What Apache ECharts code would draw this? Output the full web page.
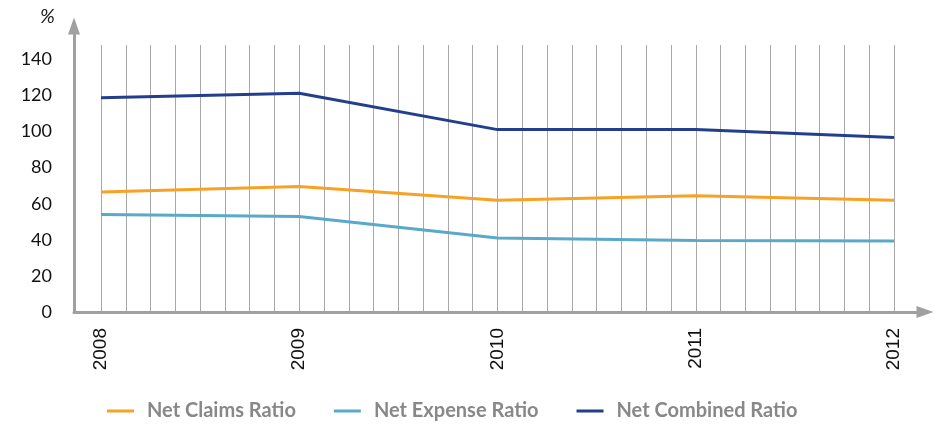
<!DOCTYPE html>
<html>
<head>
<meta charset="utf-8">
<style>
  html, body { margin: 0; padding: 0; background: #ffffff; }
  #chart { width: 936px; height: 424px; }
</style>
<script src="https://cdn.jsdelivr.net/npm/echarts@6/dist/echarts.min.js"></script>
</head>
<body>
<div id="chart"></div>
<script>
// Insurance ratios by year, in percent
const years = [2008, 2009, 2010, 2011, 2012];
const netClaimsRatio   = [66.5, 69.6, 62, 64.5, 62];
const netExpenseRatio  = [54, 53, 41, 39.6, 39.4];
const netCombinedRatio = [118.7, 121.3, 101.1, 101.1, 96.7];
const yTicks = [0, 20, 40, 60, 80, 100, 120, 140];
const seriesNames = ['Net Claims Ratio', 'Net Expense Ratio', 'Net Combined Ratio'];
const seriesColors = ['#F7A125', '#5BA9C8', '#233E8C'];

const pairs = vals => years.map((y, i) => [y, vals[i]]);

const chart = echarts.init(document.getElementById('chart'), null, { renderer: 'canvas' });

const axisGrey = '#a0a0a0';

chart.setOption({
  animation: false,
  backgroundColor: '#ffffff',
  textStyle: { fontFamily: 'Lato' },
  grid: [
    // plot area
    { left: 101, right: 42, top: 45, bottom: 112 },
    // frame carrying the arrowed axes
    { left: 74, right: 11, top: 26, bottom: 112 }
  ],
  xAxis: [
    {
      type: 'value', gridIndex: 0,
      min: years[0], max: years[years.length - 1], interval: 0.125,
      axisLine: { show: false }, axisTick: { show: false },
      splitLine: { show: true, lineStyle: { color: '#a8a8a8', width: 1 } },
      axisLabel: {
        rotate: 90, margin: 16,
        fontFamily: 'Liberation Sans', fontSize: 19, color: '#111111',
        formatter: v => (Number.isInteger(v) && years.includes(v)) ? String(v) : ''
      }
    },
    {
      type: 'value', gridIndex: 1, min: 0, max: 1,
      axisLine: {
        show: true, symbol: ['none', 'triangle'], symbolSize: [12, 17],
        lineStyle: { color: axisGrey, width: 3 }
      },
      axisTick: { show: false }, axisLabel: { show: false }, splitLine: { show: false }
    }
  ],
  yAxis: [
    {
      type: 'value', gridIndex: 0,
      min: 0, max: 148, interval: 20,
      axisLine: { show: false }, axisTick: { show: false },
      splitLine: { show: false },
      axisLabel: {
        margin: 49, fontFamily: 'Lato', fontSize: 18, color: '#111111',
        showMaxLabel: false,
        formatter: v => yTicks.includes(v) ? String(v) : ''
      }
    },
    {
      type: 'value', gridIndex: 1, min: 0, max: 1,
      name: '%', nameLocation: 'end', nameGap: 9,
      nameTextStyle: {
        fontFamily: 'Lato', fontStyle: 'italic', fontSize: 20, color: '#222222',
        align: 'right', verticalAlign: 'middle', padding: [0, 19, 0, 0]
      },
      axisLine: {
        show: true, symbol: ['none', 'triangle'], symbolSize: [12, 17],
        lineStyle: { color: axisGrey, width: 3 }
      },
      axisTick: { show: false }, axisLabel: { show: false }, splitLine: { show: false }
    }
  ],
  legend: {
    left: 107, top: 401, padding: 0,
    icon: 'rect', itemWidth: 27, itemHeight: 3, itemGap: 38,
    data: seriesNames,
    textStyle: {
      fontFamily: 'Lato', fontWeight: 'bold', fontSize: 20, color: '#888888',
      padding: [0, 0, 0, 8], lineHeight: 20
    }
  },
  series: [netClaimsRatio, netExpenseRatio, netCombinedRatio].map((vals, i) => ({
    name: seriesNames[i],
    type: 'line',
    xAxisIndex: 0, yAxisIndex: 0,
    data: pairs(vals),
    showSymbol: false, symbol: 'none',
    lineStyle: { color: seriesColors[i], width: 3 },
    itemStyle: { color: seriesColors[i] },
    z: 5
  }))
});
</script>
</body>
</html>
